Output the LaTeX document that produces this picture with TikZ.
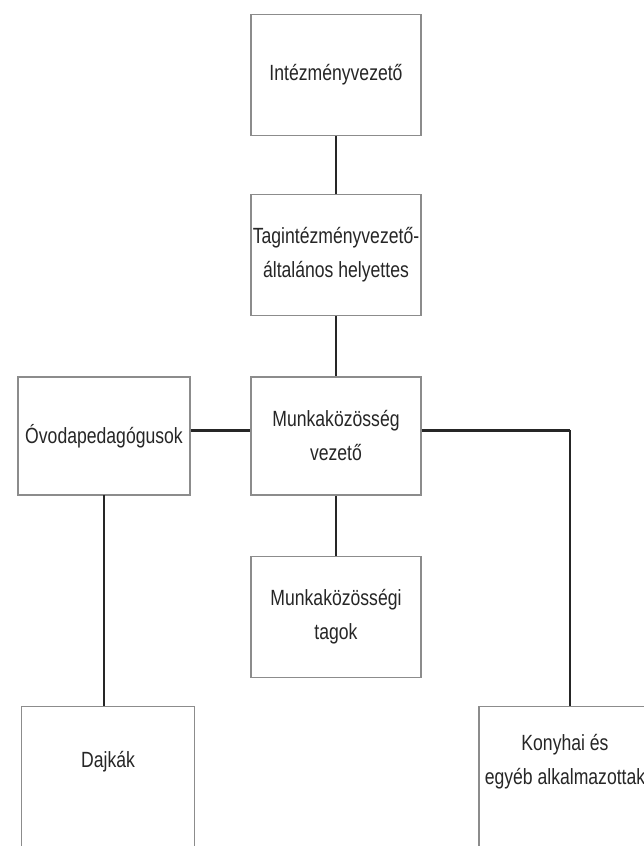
\documentclass[tikz,border=0pt]{standalone}
\usepackage{fontspec}
\setmainfont{Liberation Sans}[FakeStretch=0.8]
\begin{document}
\begin{tikzpicture}[x=1pt,y=-1pt,
  orgbox/.style={draw=black!45, line width=1.2pt, fill=white, rectangle, minimum width=170pt, minimum height=121pt, inner sep=0pt, align=center, text=black!85, font=\fontsize{22}{34}\selectfont},
  tallbox/.style={orgbox, minimum height=150pt},
  lbl/.style={text=black!85, align=center, font=\fontsize{22}{34}\selectfont},
  link/.style={draw=black!85, line width=2pt},
  thicklink/.style={draw=black!85, line width=3pt}]
\clip (0,0) rectangle (644,846);
\fill[white] (0,0) rectangle (644,846);
\node[orgbox] (iv) at (336,75) {Intézményvezető};
\node[orgbox] (th) at (336,255) {Tagintézményvezető-\\általános helyettes};
\node[orgbox, minimum height=118pt] (mv) at (336,436) {Munkaközösség\\vezető};
\node[orgbox, minimum width=172pt, minimum height=118pt] (ov) at (104,436) {Óvodapedagógusok};
\node[orgbox] (mt) at (336,617) {Munkaközösségi\\tagok};
\node[tallbox, minimum width=173pt, anchor=north] (dj) at (108,706) {};
\node[lbl] (djt) at (108,762) {Dajkák};
\node[tallbox, minimum width=172pt, anchor=north] (ko) at (565,706) {};
\node[lbl] (kot) at (565,762) {Konyhai és\\egyéb alkalmazottak};
\coordinate (ovb) at (104,495);
\coordinate (djtop) at (104,706);
\coordinate (corner) at (570,430);
\coordinate (kotop) at (570,706);
\draw[link] (iv.south) -- (th.north);
\draw[link] (th.south) -- (mv.north);
\draw[link] (mv.south) -- (mt.north);
\draw[thicklink] (ov.east |- 0,430) -- (mv.west |- 0,430);
\draw[thicklink] (mv.east |- 0,430) -- (corner);
\draw[link] (corner) -- (kotop);
\draw[link] (ovb) -- (djtop);
\end{tikzpicture}
\end{document}
